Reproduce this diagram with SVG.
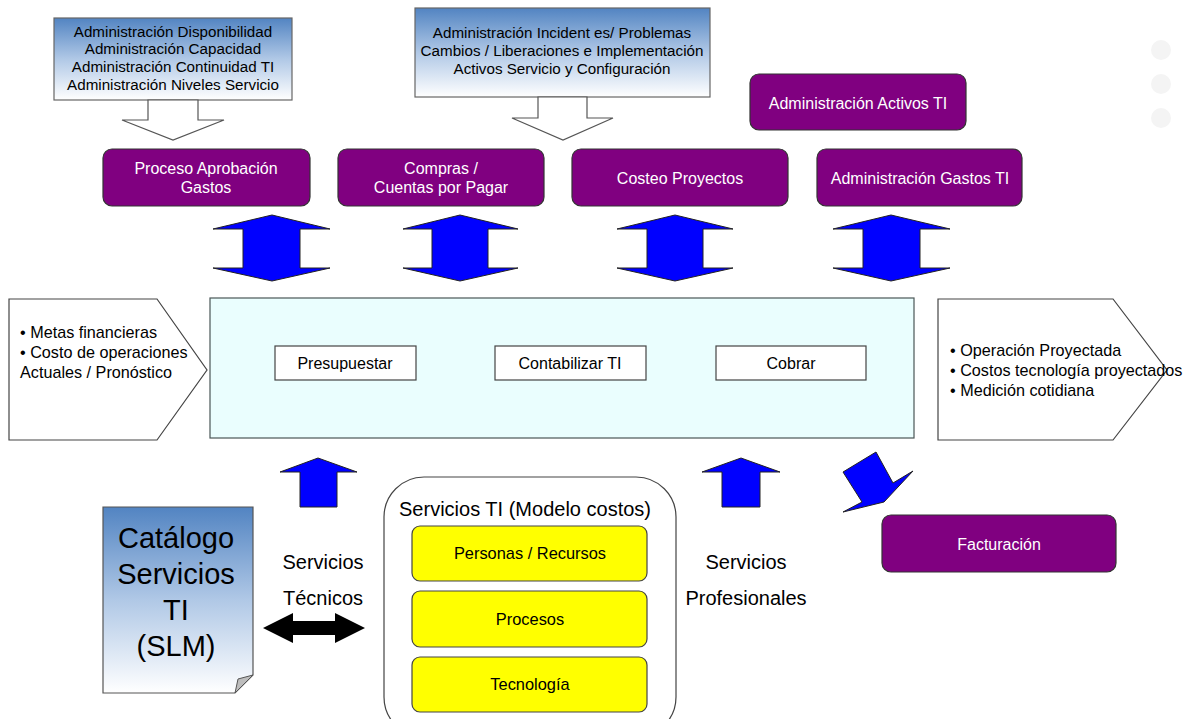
<svg xmlns="http://www.w3.org/2000/svg" width="1195" height="719" viewBox="0 0 1195 719">
  <defs>
    <linearGradient id="blueFade" x1="0" y1="0" x2="0" y2="1">
      <stop offset="0" stop-color="#5284c2"/>
      <stop offset="0.5" stop-color="#b0c8e6"/>
      <stop offset="1" stop-color="#ffffff"/>
    </linearGradient>
    <style>
      text { font-family: "Liberation Sans", Arial, sans-serif; fill: #000; }
      .purple { fill: #800080; stroke: #333; stroke-width: 1.2; }
      .purple-t { fill: #fff; font-size: 16px; text-anchor: middle; }
      .callout { fill: url(#blueFade); stroke: #666; stroke-width: 1.2; }
      .callout-t { font-size: 15.2px; text-anchor: middle; }
      .hollow { fill: #fff; stroke: #555; stroke-width: 1.2; }
      .blue { fill: #0000ff; stroke: #222; stroke-width: 1; }
      .plain { fill: #fff; stroke: #444; stroke-width: 1.2; }
      .step { fill: #fff; stroke: #444; stroke-width: 1.2; }
      .step-t { font-size: 16px; text-anchor: middle; }
      .yellow { fill: #ffff00; stroke: #444; stroke-width: 1.2; }
      .yellow-t { font-size: 16.4px; text-anchor: middle; }
      .big { font-size: 20px; text-anchor: middle; }
      .bullet { font-size: 16.2px; }
    </style>
  </defs>

  <rect width="1195" height="719" fill="#fff"/>

  <!-- faint decorative dots at the right margin -->
  <g id="dots" fill="#f4f4f4">
    <circle cx="1161" cy="50" r="10"/>
    <circle cx="1161" cy="84" r="10"/>
    <circle cx="1161" cy="118" r="10"/>
  </g>

  <!-- upper-left ITIL process callout -->
  <g id="callout-availability">
    <rect class="callout" x="54" y="18" width="238" height="82"/>
    <polygon class="hollow" points="148,100 198,100 198,120 224,120 173,140 122,120 148,120"/>
    <text class="callout-t" x="173" y="37">Administración Disponibilidad</text>
    <text class="callout-t" x="173" y="54">Administración Capacidad</text>
    <text class="callout-t" x="173" y="72">Administración Continuidad TI</text>
    <text class="callout-t" x="173" y="90">Administración Niveles Servicio</text>
  </g>

  <!-- upper-middle ITIL process callout -->
  <g id="callout-incidents">
    <rect class="callout" x="415" y="8" width="295" height="89"/>
    <polygon class="hollow" points="538,97 587,97 587,118 613,118 563,140 512,118 538,118"/>
    <text class="callout-t" x="562" y="38">Administración Incident es/ Problemas</text>
    <text class="callout-t" x="562" y="56">Cambios / Liberaciones e Implementación</text>
    <text class="callout-t" x="562" y="74">Activos Servicio y Configuración</text>
  </g>

  <!-- purple process boxes -->
  <g id="aprobacion">
    <rect class="purple" x="103" y="149" width="207" height="57" rx="9"/>
    <text class="purple-t" x="206" y="174">Proceso Aprobación</text>
    <text class="purple-t" x="206" y="193">Gastos</text>
  </g>
  <g id="compras">
    <rect class="purple" x="338" y="149" width="206" height="57" rx="9"/>
    <text class="purple-t" x="441" y="174">Compras /</text>
    <text class="purple-t" x="441" y="193">Cuentas por Pagar</text>
  </g>
  <g id="costeo">
    <rect class="purple" x="572" y="149" width="216" height="57" rx="9"/>
    <text class="purple-t" x="680" y="184">Costeo Proyectos</text>
  </g>
  <g id="gastos-ti">
    <rect class="purple" x="817" y="149" width="205" height="57" rx="9"/>
    <text class="purple-t" x="920" y="184">Administración Gastos TI</text>
  </g>
  <g id="activos-ti">
    <rect class="purple" x="750" y="74" width="216" height="56" rx="9"/>
    <text class="purple-t" x="858" y="109">Administración Activos TI</text>
  </g>
  <g id="facturacion">
    <rect class="purple" x="882" y="515" width="234" height="57" rx="9"/>
    <text class="purple-t" x="999" y="550">Facturación</text>
  </g>

  <!-- input and output chevrons -->
  <g id="entradas">
    <polygon class="plain" points="9,299 157,299 207,370 157,440 9,440"/>
    <text class="bullet" x="20" y="338">• Metas financieras</text>
    <text class="bullet" x="20" y="358">• Costo de operaciones</text>
    <text class="bullet" x="20" y="378">Actuales / Pronóstico</text>
  </g>
  <g id="salidas">
    <polygon class="plain" points="938,299 1113,299 1167,370 1113,440 938,440"/>
    <text class="bullet" x="950" y="356">• Operación Proyectada</text>
    <text class="bullet" x="950" y="376">• Costos tecnología proyectados</text>
    <text class="bullet" x="950" y="396">• Medición cotidiana</text>
  </g>

  <!-- central financial management area -->
  <g id="gestion-financiera">
    <rect x="210" y="298" width="704" height="140" fill="#eafefe" stroke="#4a5656" stroke-width="1.2"/>
    <g id="presupuestar">
      <rect class="step" x="275" y="346" width="141" height="34"/>
      <text class="step-t" x="345" y="369">Presupuestar</text>
    </g>
    <g id="contabilizar">
      <rect class="step" x="495" y="346" width="151" height="34"/>
      <text class="step-t" x="570" y="369">Contabilizar TI</text>
    </g>
    <g id="cobrar">
      <rect class="step" x="716" y="346" width="150" height="34"/>
      <text class="step-t" x="791" y="369">Cobrar</text>
    </g>
  </g>

  <!-- service catalogue document -->
  <g id="catalogo">
    <path d="M103,507 H253 V675 L235,693 H103 Z" fill="url(#blueFade)" stroke="#555" stroke-width="1.2"/>
    <path d="M253,675 L238,679 L235,693 Z" fill="#bdbdbd" stroke="#555" stroke-width="1"/>
    <text x="176" y="548" font-size="29" text-anchor="middle">Catálogo</text>
    <text x="176" y="584" font-size="29" text-anchor="middle">Servicios</text>
    <text x="176" y="620" font-size="29" text-anchor="middle">TI</text>
    <text x="176" y="656" font-size="29" text-anchor="middle">(SLM)</text>
  </g>

  <!-- IT services cost model -->
  <g id="servicios-ti">
    <rect x="384" y="477" width="292" height="260" rx="40" fill="#fff" stroke="#444" stroke-width="1.2"/>
    <text class="big" x="525" y="516">Servicios TI (Modelo costos)</text>
    <rect class="yellow" x="412" y="526" width="235" height="55" rx="8"/>
    <text class="yellow-t" x="530" y="559">Personas / Recursos</text>
    <rect class="yellow" x="412" y="591" width="235" height="56" rx="8"/>
    <text class="yellow-t" x="530" y="625">Procesos</text>
    <rect class="yellow" x="412" y="657" width="235" height="55" rx="8"/>
    <text class="yellow-t" x="530" y="690">Tecnología</text>
  </g>

  <g id="label-tecnicos">
    <text class="big" x="323" y="569">Servicios</text>
    <text class="big" x="323" y="605">Técnicos</text>
  </g>
  <g id="label-profesionales">
    <text class="big" x="746" y="569">Servicios</text>
    <text class="big" x="746" y="605">Profesionales</text>
  </g>

  <!-- connectors -->
  <g id="connectors">
    <polygon class="blue" points="272,215 330,229 300,229 300,268 330,268 272,281 213,268 243,268 243,229 213,229"/>
    <polygon class="blue" points="460,215 518,229 488,229 488,268 518,268 460,281 403,268 432,268 432,229 403,229"/>
    <polygon class="blue" points="675,215 733,229 703,229 703,268 733,268 675,281 617,268 647,268 647,229 617,229"/>
    <polygon class="blue" points="891,215 950,229 920,229 920,268 950,268 891,281 833,268 863,268 863,229 833,229"/>
    <polygon class="blue" points="318,458 357,472 337,472 337,507 300,507 300,472 280,472"/>
    <polygon class="blue" points="741,458 780,472 760,472 760,507 722,507 722,472 702,472"/>
    <polygon class="blue" points="843,472 876,452 893,483 913,471 884,502 843,512 862,502"/>
    <polygon fill="#000" points="263,628 293,613 293,621 335,621 335,613 365,628 335,643 335,635 293,635 293,643"/>
  </g>
</svg>
